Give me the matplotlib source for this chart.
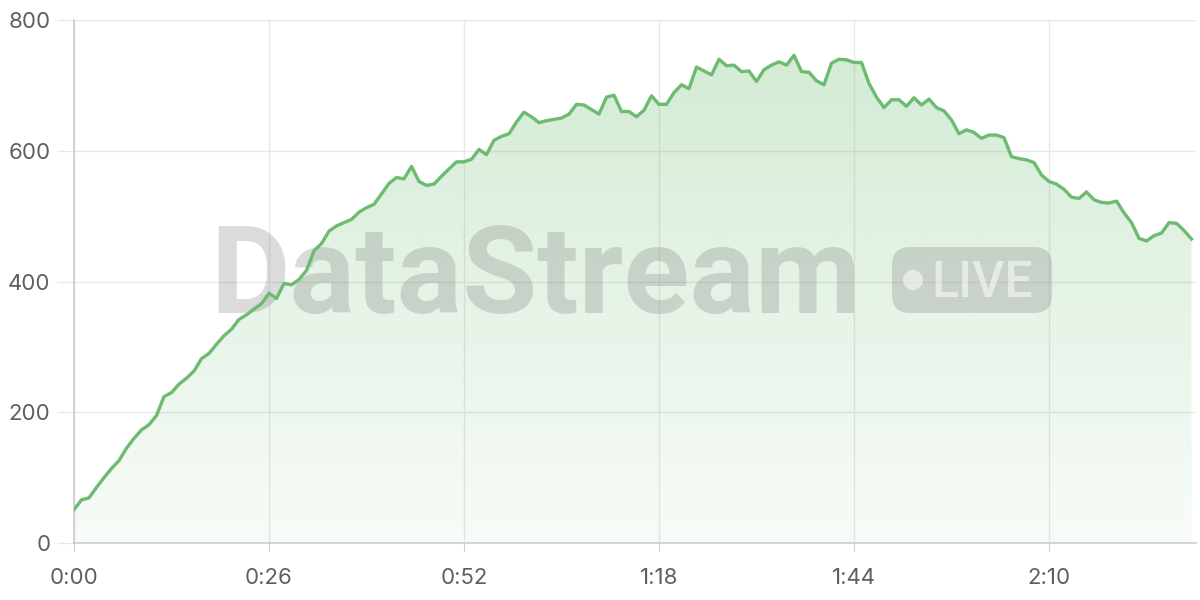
import matplotlib
matplotlib.use("Agg")
import matplotlib.pyplot as plt
import numpy as np
from matplotlib.patches import FancyBboxPatch, Circle
from matplotlib.transforms import IdentityTransform

# one reading per second, 0:00 .. 2:29
seconds = list(range(150))
values = [
    51, 66, 69, 85, 100, 114, 126, 145, 160, 173,
    181, 195, 224, 230, 243, 252, 263, 282, 290, 304,
    317, 327, 342, 349, 358, 366, 382, 374, 397, 395,
    403, 417, 447, 458, 477, 485, 490, 495, 506, 513,
    518, 534, 550, 559, 557, 576, 553, 547, 549, 561,
    572, 583, 583, 587, 602, 594, 616, 622, 626, 644,
    659, 652, 643, 646, 648, 650, 656, 671, 670, 663,
    656, 682, 685, 660, 660, 652, 662, 684, 671, 671,
    689, 701, 695, 728, 722, 716, 740, 730, 731, 721,
    722, 706, 724, 731, 736, 731, 746, 721, 720, 707,
    701, 734, 740, 739, 735, 735, 703, 682, 666, 678,
    678, 668, 681, 670, 679, 666, 661, 647, 626, 632,
    628, 619, 624, 624, 620, 591, 588, 586, 582, 563,
    553, 549, 541, 529, 527, 537, 525, 521, 520, 523,
    505, 490, 466, 462, 470, 474, 490, 489, 478, 465,
]
tick_seconds = [0, 26, 52, 78, 104, 130]
tick_labels = ["0:00", "0:26", "0:52", "1:18", "1:44", "2:10"]
y_ticks = [0, 200, 400, 600, 800]

line_color = "#6dbb70"
grid_color = "#e8e8e8"
text_color = "#5f5f5f"

plt.rcParams['font.family'] = ['Inter', 'DejaVu Sans']

fig = plt.figure(figsize=(12, 6), dpi=100)
ax = fig.add_axes([74 / 1200, 57 / 600, 1122 / 1200, 523 / 600])

x = np.array(seconds)
y = np.array(values)

# gradient fill under the line
fill = ax.fill_between(x, y, 0, color="none", lw=0)
grad = np.linspace(0.3, 0.05, 256).reshape(-1, 1)
rgba = np.zeros((256, 1, 4))
rgba[..., 0] = 0.40
rgba[..., 1] = 0.73
rgba[..., 2] = 0.42
rgba[..., 3] = grad
img = ax.imshow(rgba, extent=[0, 149.5, 0, 800], aspect="auto",
                origin="upper", zorder=1, interpolation="bicubic")
img.set_clip_path(fill.get_paths()[0], transform=ax.transData)

ax.plot(x, y, color=line_color, lw=2.4, zorder=3, solid_joinstyle="round")

# watermark
ax.text(210 / 1200, (600 - 313) / 600, "DataStream", transform=fig.transFigure,
        family=['Roboto', 'DejaVu Sans'], fontweight="bold", fontsize=88,
        color="#888888", alpha=0.3, ha="left", va="baseline", zorder=2.5)
badge = FancyBboxPatch((892, 600 - 313), 160, 66,
                       boxstyle="round,pad=0,rounding_size=18",
                       transform=IdentityTransform(), facecolor="#888888",
                       alpha=0.3, edgecolor="none", zorder=2.5)
ax.add_artist(badge)
ax.add_artist(Circle((913, 600 - 280), 10, transform=IdentityTransform(),
                     facecolor="white", alpha=0.55, edgecolor="none", zorder=2.6))
ax.text(931 / 1200, (600 - 297) / 600, "LIVE", transform=fig.transFigure,
        family=['Roboto', 'DejaVu Sans'], fontweight="medium", fontsize=36,
        color="white", alpha=0.55, ha="left", va="baseline", zorder=2.6)

ax.set_xlim(0, 149.6)
ax.set_ylim(0, 800)
ax.set_xticks(tick_seconds)
ax.set_xticklabels(tick_labels)
ax.set_yticks(y_ticks)

ax.grid(True, color=grid_color, lw=1, zorder=0)
ax.set_axisbelow(True)
for side in ["top", "right"]:
    ax.spines[side].set_visible(False)
for side in ["left", "bottom"]:
    ax.spines[side].set_color("#cccccc")
    ax.spines[side].set_linewidth(1.2)
ax.tick_params(axis="y", length=12, color=grid_color, pad=5,
               labelsize=16, labelcolor=text_color)
ax.tick_params(axis="x", length=6, color="#cccccc", pad=12,
               labelsize=16, labelcolor=text_color)

fig.savefig("out.png", dpi=100)
